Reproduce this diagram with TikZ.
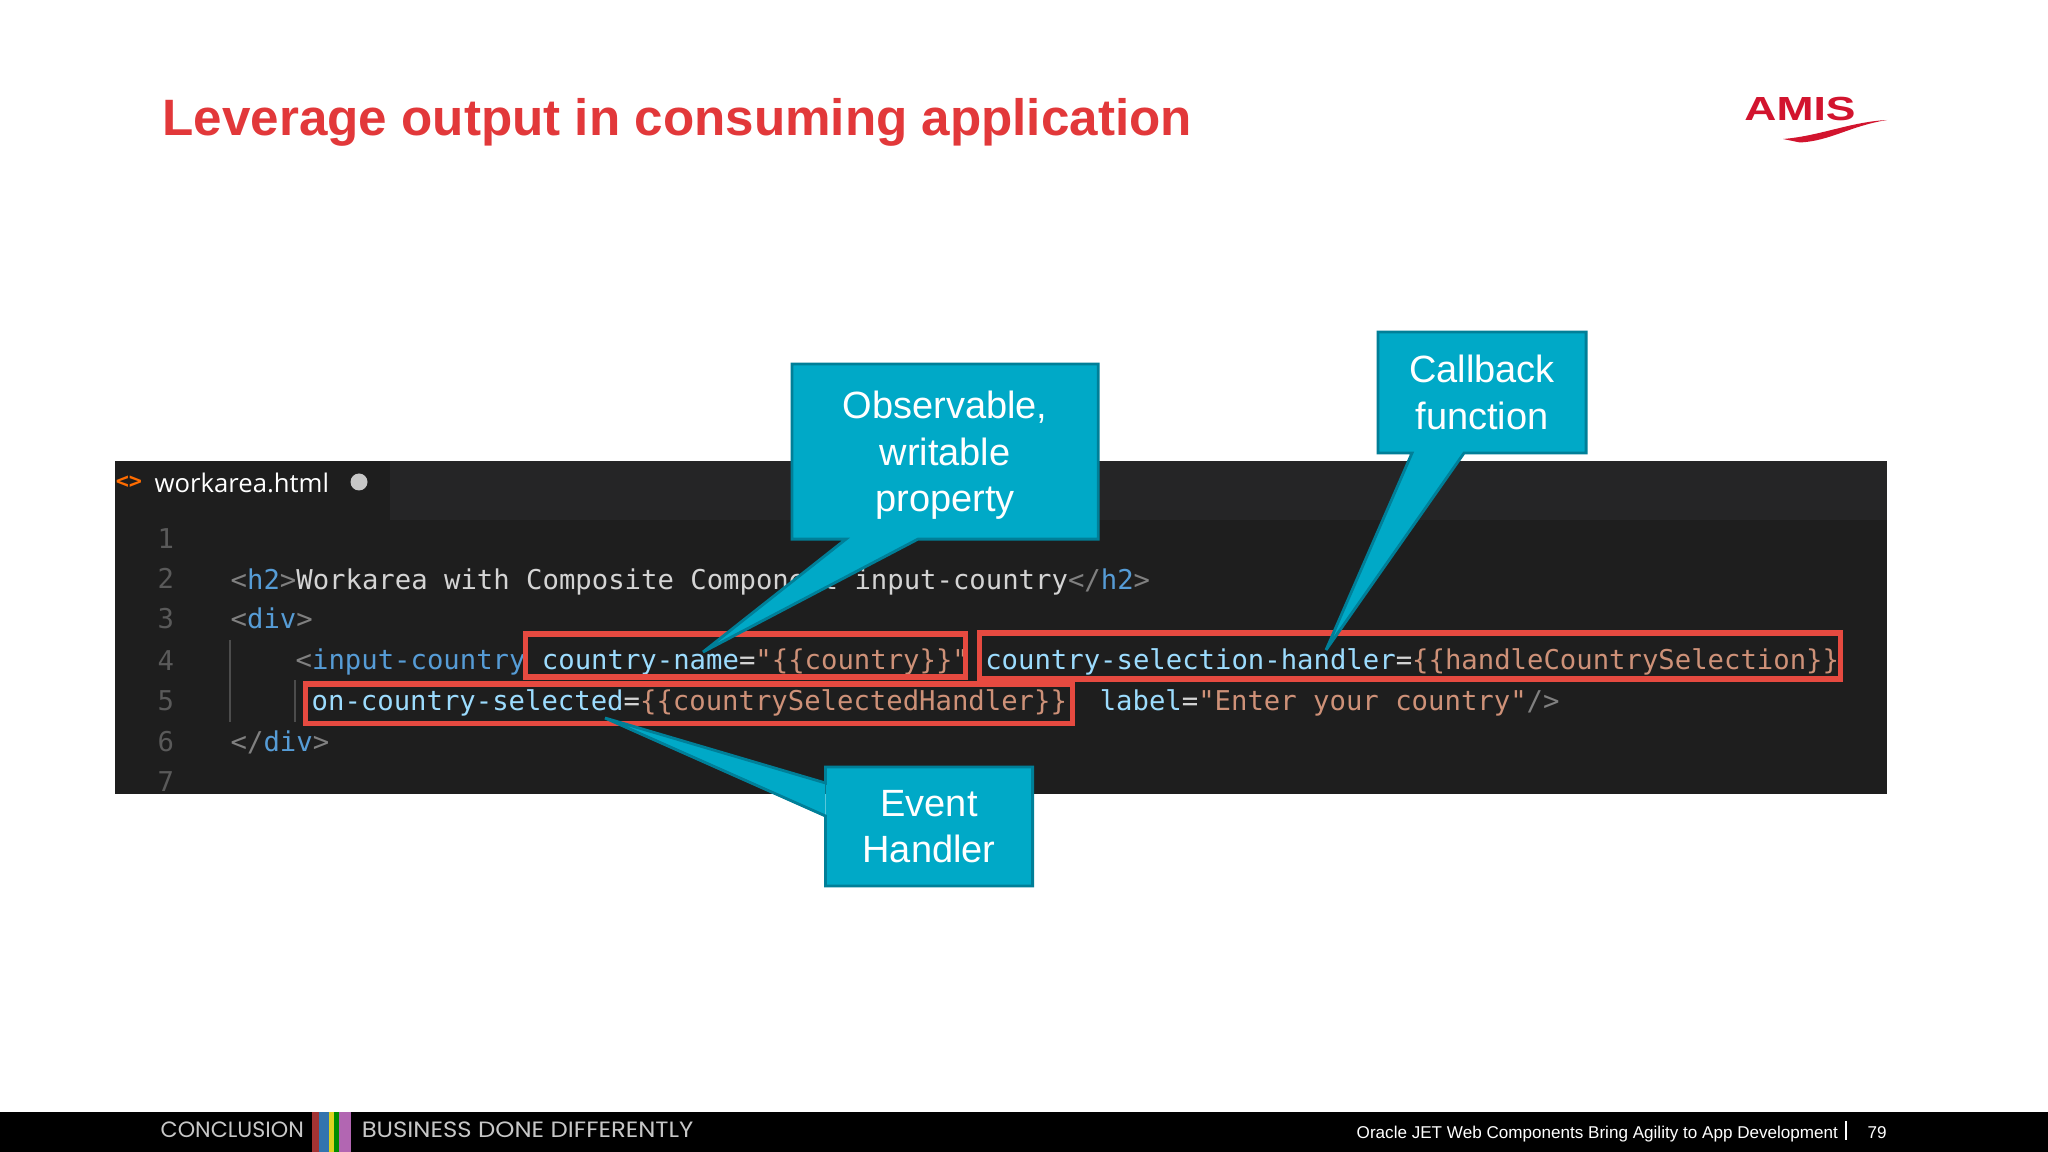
\documentclass[tikz,border=0pt]{standalone}
\usepackage{fontspec}
\setmainfont{Liberation Sans}
\setmonofont{DejaVu Sans Mono}
\newfontfamily\tabfont{Open Sans}
\newfontfamily\barfont{Poppins}
\usetikzlibrary{positioning}
\usetikzlibrary{calc}
\definecolor{amisred}{HTML}{E2383A}
\definecolor{logored}{HTML}{D2142E}
\definecolor{callblue}{HTML}{00A9C7}
\definecolor{callline}{HTML}{007F98}
\definecolor{panelgrey}{HTML}{1E1E1E}
\definecolor{tabgrey}{HTML}{252526}
\definecolor{boxred}{HTML}{E64A40}
\definecolor{ctag}{HTML}{808080}
\definecolor{cname}{HTML}{569CD6}
\definecolor{cattr}{HTML}{9CDCFE}
\definecolor{cstr}{HTML}{CE9178}
\definecolor{ctxt}{HTML}{D4D4D4}
\newcommand{\ctg}[1]{\textcolor{ctag}{#1}}
\newcommand{\cnm}[1]{\textcolor{cname}{#1}}
\newcommand{\cat}[1]{\textcolor{cattr}{#1}}
\newcommand{\cst}[1]{\textcolor{cstr}{#1}}
\tikzset{
 codeline/.style={anchor=base west,inner sep=0pt,text=ctxt,font=\ttfamily\fontsize{7.755}{9}\selectfont},
 linenum/.style={anchor=base west,inner sep=0pt,text=ctag!70!black,font=\ttfamily\fontsize{7.755}{9}\selectfont},
 redbox/.style={draw=boxred,line width=5*0.2845pt},
 callbox/.style={fill=callblue,text=white,inner sep=0pt,outer sep=0pt,anchor=north west,align=center,font=\fontsize{10.8}{13.2}\selectfont},
 wedgefill/.style={fill=callblue},
 calledge/.style={draw=callline,line width=0.8pt,line join=miter},
 footer/.style={inner sep=0pt,anchor=base west},
}
\begin{document}
\begin{tikzpicture}[x=0.01cm,y=-0.01cm]
 \useasboundingbox (0,0) rectangle (2048,1152);
 \fill[white] (0,0) rectangle (2048,1152);
 % title and logo
 \node[inner sep=0pt,anchor=base west,text=amisred,font=\bfseries\fontsize{14.55}{16}\selectfont] (title) at (162,136) {Leverage output in consuming application};
 \node[inner sep=0pt,text=logored,xscale=1.33,font=\bfseries\fontsize{9.5}{10}\selectfont] (logo) at (1800,109) {AMIS};
 \fill[logored] (1783,139) .. controls (1820,136) and (1850,122) .. (1887,120) .. controls (1850,126) and (1830,141) .. (1800,142.5) -- cycle;
 % editor panel
 \fill[tabgrey] (115,461) rectangle (1887,520);
 \fill[panelgrey] (115,520) rectangle (1887,794);
 \fill[panelgrey] (115,461) rectangle (390,520);
 \node[inner sep=0pt,text=orange!85!red,font=\ttfamily\bfseries\fontsize{6.2}{7}\selectfont] (tabicon) at (129,482) {<>};
 \node[footer,text=white,font=\tabfont\fontsize{7.3}{9}\selectfont] (tabname) at (154,493) {workarea.html};
 \fill[black!22] (359,482) circle (8.5);
 \foreach \n/\y in {1/548,2/589,3/629,4/670,5/710,6/751,7/791}
  \node[linenum] (num\n) at (157,\y) {\n};
 \draw[black!70] (230,640)--(230,722);
 \draw[black!70] (295,680)--(295,722);
 % code lines
 \node[codeline] (line2) at (230,589.5) {\ctg{<}\cnm{h2}\ctg{>}Workarea with Composite Component input-country\ctg{</}\cnm{h2}\ctg{>}};
 \node[codeline] (line3) at (230,629) {\ctg{<}\cnm{div}\ctg{>}};
 \node[codeline] (line4) at (295,669.5) {\ctg{<}\cnm{input-country} \cat{country-name}=\cst{"\{\{country\}\}"} \cat{country-selection-handler}=\cst{\{\{handleCountrySelection\}\}}};
 \node[codeline] (line5) at (311,710) {\cat{on-country-selected}=\cst{\{\{countrySelectedHandler\}\}}~~\cat{label}=\cst{"Enter your country"}\ctg{/>}};
 \node[codeline] (line6) at (230,751) {\ctg{</}\cnm{div}\ctg{>}};
 % red frames
 \draw[redbox] (525,634) rectangle (965,677);
 \draw[redbox] (979,633) rectangle (1840,679);
 \draw[redbox] (305,684) rectangle (1072,723);
 % callouts
 \coordinate (obstip) at (703,652);
 \coordinate (cbtip) at (1326,650);
 \coordinate (evtip) at (605,718);
 \node[callbox,text depth=0pt,minimum width=3.06cm,minimum height=1.75cm] (obsbox) at (792,364) {Observable,\\writable\\property};
 \fill[wedgefill] ($(obsbox.south west)+(54,0)$) -- (obstip) -- ($(obsbox.south west)+(126,0)$);
 \draw[calledge] ($(obsbox.south west)+(126,0)$) -- (obstip) -- ($(obsbox.south west)+(54,0)$) -- (obsbox.south west) -- (obsbox.north west) -- (obsbox.north east) -- (obsbox.south east) -- cycle;
 \node[callbox,minimum width=2.08cm,minimum height=1.21cm] (cbbox) at (1378,332) {Callback\\function};
 \fill[wedgefill] ($(cbbox.south west)+(34,0)$) -- (cbtip) -- ($(cbbox.south west)+(86,0)$);
 \draw[calledge] ($(cbbox.south west)+(86,0)$) -- (cbtip) -- ($(cbbox.south west)+(34,0)$) -- (cbbox.south west) -- (cbbox.north west) -- (cbbox.north east) -- (cbbox.south east) -- cycle;
 \node[callbox,minimum width=2.07cm,minimum height=1.19cm] (evbox) at (825.5,767) {Event\\Handler};
 \fill[wedgefill] ($(evbox.north west)+(0,16)$) -- (evtip) -- ($(evbox.north west)+(0,49)$);
 \draw[calledge] ($(evbox.north west)+(0,49)$) -- (evtip) -- ($(evbox.north west)+(0,16)$) -- (evbox.north west) -- (evbox.north east) -- (evbox.south east) -- (evbox.south west) -- cycle;
 % footer bar
 \fill[black] (0,1112) rectangle (2048,1152);
 \fill[red!55!black!80!white] (312,1112) rectangle (319,1152);
 \fill[cyan!60!blue!80!black] (319,1112) rectangle (329,1152);
 \fill[yellow!85!black] (329,1112) rectangle (334,1152);
 \fill[green!55!black] (334,1112) rectangle (339,1152);
 \fill[violet!60!white] (339,1112) rectangle (351,1152);
 \node[footer,text=black!22,font=\barfont\fontsize{6.3}{7}\selectfont] (concl) at (160,1137) {CONCLUSION};
 \node[footer,text=black!22,xscale=1.1,font=\barfont\fontsize{6.3}{7}\selectfont] (slogan) at (361,1137) {BUSINESS DONE DIFFERENTLY};
 \node[footer,text=white,font=\fontsize{4.86}{6}\selectfont] (talk) at (1356,1138) {Oracle JET Web Components Bring Agility to App Development};
 \draw[white,line width=0.6pt] (1846,1121)--(1846,1140);
 \node[footer,text=white,font=\fontsize{4.86}{6}\selectfont] (page) at (1867,1138) {79};
\end{tikzpicture}
\end{document}
